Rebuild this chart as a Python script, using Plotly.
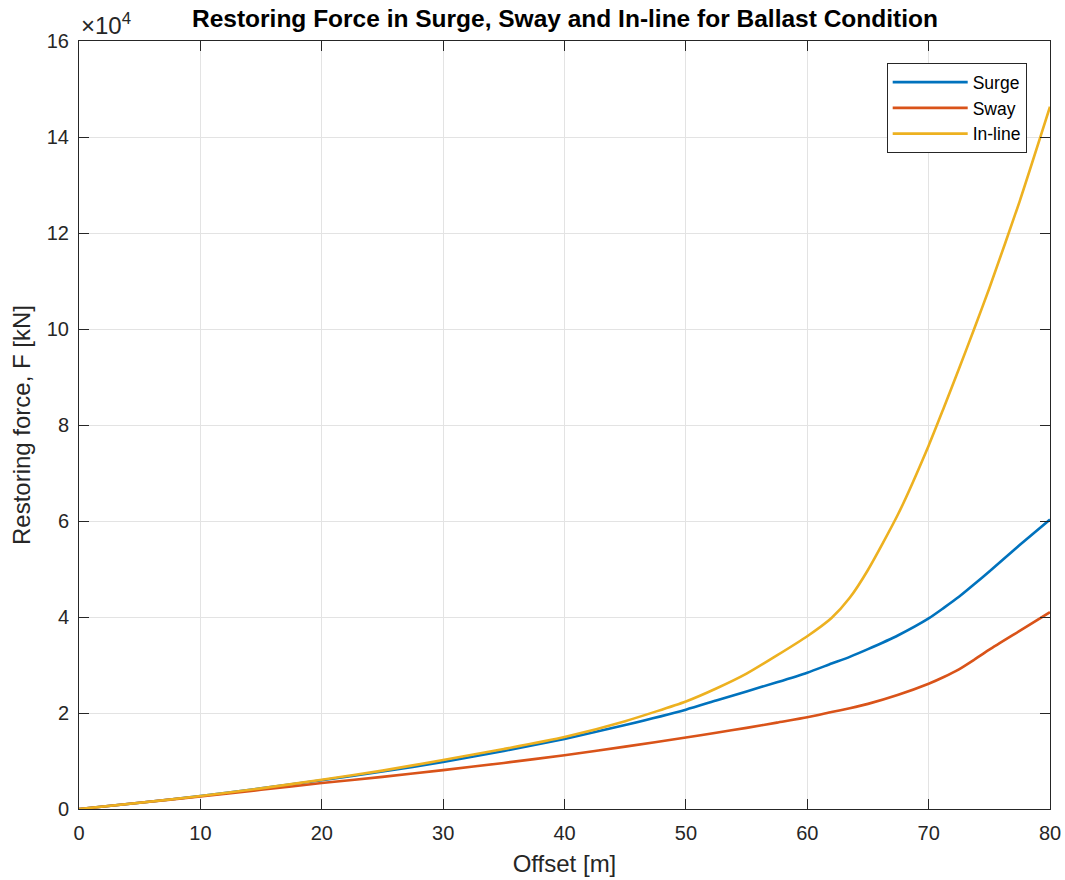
import plotly.graph_objects as go

# Offset [m]
offset = [0, 5, 10, 15, 20, 25, 30, 35, 40, 45, 50, 52.5, 55, 57.5, 60, 62, 63.5, 65, 67.5, 70,
          71.25, 72.5, 73.75, 75, 77.5, 80]

# Restoring force [kN]
surge = [0, 1300, 2700, 4300, 6000, 7800, 9800, 12100, 14600, 17500, 20700, 22600, 24500, 26400, 28400,
         30300, 31700, 33300, 36200, 39700, 41900, 44200, 46800, 49500, 55000, 60300]
sway = [0, 1300, 2600, 4000, 5400, 6700, 8100, 9600, 11200, 13000, 14900, 15900, 16900, 18000, 19100,
        20200, 21000, 21900, 23800, 26100, 27500, 29100, 31100, 33200, 37100, 41000]
inline = [0, 1300, 2700, 4300, 6100, 8000, 10200, 12500, 15000, 18300, 22400, 25100, 28200, 32000, 36000,
          39800, 44000, 49800, 61500, 75700, 83600, 91700, 100000, 108500, 126600, 146300]

y_ticks = list(range(0, 160001, 20000))
y_ticktext = [str(v // 10000) for v in y_ticks]
x_ticks = list(range(0, 81, 10))

colors = {"Surge": "#0072BD", "Sway": "#D95319", "In-line": "#EDB120"}
font_family = "Liberation Sans, Arial, Helvetica, sans-serif"
axis_color = "#262626"

fig = go.Figure()
for name, vals in [("Surge", surge), ("Sway", sway), ("In-line", inline)]:
    fig.add_trace(go.Scatter(
        x=offset, y=vals, mode="lines", name=name,
        line=dict(color=colors[name], width=2.6, shape="spline", smoothing=0.6),
    ))

axis_common = dict(
    showline=True, linecolor=axis_color, linewidth=1, mirror="allticks",
    ticks="inside", ticklen=10, tickcolor=axis_color, tickwidth=1,
    showgrid=True, gridcolor="#e3e3e3", gridwidth=1, zeroline=False,
    tickfont=dict(size=20, color=axis_color, family=font_family),
)

fig.update_xaxes(range=[0, 80], tickvals=x_ticks, ticklabelstandoff=6,
                 title=dict(text="Offset [m]", font=dict(size=24, color=axis_color, family=font_family), standoff=12),
                 **axis_common)
fig.update_yaxes(range=[0, 160000], tickvals=y_ticks, ticktext=y_ticktext, ticklabelstandoff=5,
                 title=dict(text="Restoring force, F [kN]", font=dict(size=24, color=axis_color, family=font_family), standoff=9),
                 **axis_common)

fig.update_layout(
    width=1065, height=880,
    margin=dict(l=79, r=15, t=41, b=71, autoexpand=False),
    paper_bgcolor="white", plot_bgcolor="white",
    title=dict(text="<b>Restoring Force in Surge, Sway and In-line for Ballast Condition</b>",
               x=0.5305, xanchor="center", y=0.979, yanchor="middle",
               font=dict(size=24.5, color="black", family=font_family)),
    legend=dict(x=0.976, xanchor="right", y=0.971, yanchor="top",
                bgcolor="white", bordercolor=axis_color, borderwidth=1,
                font=dict(size=17.5, color="black", family=font_family),
                tracegroupgap=0, itemwidth=75),
    showlegend=True,
)

fig.add_annotation(text="×10<sup>4</sup>", xref="paper", yref="paper", x=0.0, y=1.0,
                   xanchor="left", yanchor="bottom", showarrow=False,
                   font=dict(size=24, color=axis_color, family=font_family))

fig.write_html("out.html")
